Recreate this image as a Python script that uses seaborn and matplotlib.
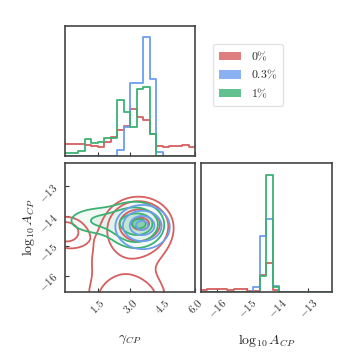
import numpy as np
import pandas as pd
import seaborn as sns
import matplotlib.pyplot as plt
from matplotlib.patches import Patch
from matplotlib.ticker import FuncFormatter

sns.set_style("ticks")
plt.rcParams["mathtext.fontset"] = "cm"
plt.rcParams["font.family"] = ["DejaVu Serif"]

# series names and colours
labels = [r"$0\%$", r"$0.3\%$", r"$1\%$"]
colors = ["#d65f5f", "#6d9eee", "#3bb273"]

# gamma_CP histogram (20 bins over 0..6)
gamma_edges = list(np.linspace(0, 6, 21))
gamma_red = [11.7, 12.0, 12.3, 10.7, 10.0, 8.7, 14.3, 19.3, 26.0, 30.0,
             47.0, 38.7, 36.0, 21.7, 10.0, 8.7, 10.0, 10.3, 11.0, 8.7]
gamma_blue = [0, 0, 0, 0, 0, 0, 0, 0, 6.0, 29.3,
              72.7, 72.7, 118.3, 76.7, 3.7, 0, 0, 0, 0, 0]
gamma_green = [3.3, 3.3, 5.0, 16.7, 13.3, 14.0, 18.3, 18.3, 56.0, 44.3,
               28.7, 66.7, 69.3, 21.7, 0, 0, 0, 0, 0, 0]

# log10 A_CP histogram (20 bins over the axis range)
loga_edges = list(np.linspace(-16.55, -12.2, 21))
loga_red = [2.0, 3.0, 3.0, 2.5, 2.0, 3.0, 3.0, 1.0, 0.5, 17.0,
            29.0, 1.5, 0, 0, 0, 0, 0, 0, 0, 0]
loga_blue = [0, 0, 0, 0, 0, 0, 0, 0, 5.0, 56.0,
             73.0, 6.0, 0, 0, 0, 0, 0, 0, 0, 0]
loga_green = [0, 0, 0, 0, 0, 0, 0, 0, 0, 15.6,
              118.0, 5.0, 0, 0, 0, 0, 0, 0, 0, 0]

# 2D posterior shapes: gaussian blobs (x, y, sx, sy, weight)
red_blobs = [(3.5, -14.25, 0.4, 0.2, 0.15),
             (3.4, -14.3, 0.8, 0.5, 0.30),
             (2.9, -16.9, 1.0, 0.5, 0.22),
             (2.6, -15.5, 1.8, 0.9, 0.27),
             (0.0, -14.5, 0.6, 0.35, 0.06)]
blue_blobs = [(3.55, -14.3, 0.45, 0.25, 0.5),
              (3.6, -14.4, 0.75, 0.45, 0.5)]
green_blobs = [(3.45, -14.25, 0.3, 0.15, 0.15),
               (3.3, -14.3, 0.65, 0.38, 0.40),
               (1.6, -14.15, 1.0, 0.3, 0.25),
               (3.2, -14.3, 0.8, 0.5, 0.20)]

sigmas = [0.5, 1.0, 1.5, 2.0]


def density(blobs, gx, gy):
    X, Y = np.meshgrid(gx, gy)
    Z = np.zeros_like(X)
    for mx, my, sx, sy, w in blobs:
        Z += w * np.exp(-0.5 * (((X - mx) / sx) ** 2 + ((Y - my) / sy) ** 2)) / (sx * sy)
    return X, Y, Z


def mass_levels(Z):
    flat = np.sort(Z.ravel())[::-1]
    cum = np.cumsum(flat) / flat.sum()
    fracs = [1 - np.exp(-0.5 * s ** 2) for s in sigmas]
    lev = [flat[np.searchsorted(cum, f)] for f in fracs]
    return sorted(lev)


def step_hist(ax, edges, heights, color):
    centers = [0.5 * (a + b) for a, b in zip(edges[:-1], edges[1:])]
    df = pd.DataFrame({"x": centers, "w": heights})
    sns.histplot(data=df, x="x", weights="w", bins=edges, element="step",
                 fill=False, color=color, linewidth=1.3, ax=ax)


fmt = FuncFormatter(lambda v, p: "$%.1f$" % v)
fmt_int = FuncFormatter(lambda v, p: "$%d$" % v)

fig = plt.figure(figsize=(3.58, 3.58), dpi=100)
ax_top = fig.add_axes([0.1816, 0.5642, 0.3631, 0.364])
ax_2d = fig.add_axes([0.1816, 0.1844, 0.3631, 0.3612])
ax_right = fig.add_axes([0.5606, 0.1844, 0.3668, 0.3612])

for h, c in zip([gamma_red, gamma_blue, gamma_green], colors):
    step_hist(ax_top, gamma_edges, h, c)
for h, c in zip([loga_red, loga_blue, loga_green], colors):
    step_hist(ax_right, loga_edges, h, c)

ax_top.set_xlim(0, 6)
ax_top.set_ylim(0, 130)
ax_right.set_xlim(-16.55, -12.2)
ax_right.set_ylim(0, 130)

gx = np.linspace(0, 6, 150)
gy = np.linspace(-16.55, -12.2, 130)
for blobs, c in [(red_blobs, colors[0]), (green_blobs, colors[2]), (blue_blobs, colors[1])]:
    X, Y, Z = density(blobs, gx, gy)
    lev = mass_levels(Z)
    if c == colors[2]:
        fill_cols = [(0.23, 0.70, 0.45, a) for a in [0.06, 0.15, 0.32, 0.6]]
        ax_2d.contourf(X, Y, Z, levels=lev + [Z.max() * 1.01], colors=fill_cols)
    ax_2d.contour(X, Y, Z, levels=lev, colors=c, linewidths=1.3)
ax_2d.set_xlim(0, 6)
ax_2d.set_ylim(-16.55, -12.2)

for ax in [ax_top, ax_2d, ax_right]:
    for s in ax.spines.values():
        s.set_visible(True)
        s.set_color("#444444")
        s.set_linewidth(1.2)
    ax.tick_params(direction="in", length=3, width=0.8, colors="#333333", labelsize=8)
    ax.set_xlabel("")
    ax.set_ylabel("")

ax_top.set_xticks([1.5, 3.0, 4.5, 6.0])
ax_top.set_xticklabels([])
ax_top.set_yticks([])

ax_2d.set_xticks([1.5, 3.0, 4.5, 6.0])
ax_2d.xaxis.set_major_formatter(fmt)
ax_2d.set_yticks([-16, -15, -14, -13])
ax_2d.yaxis.set_major_formatter(fmt_int)

ax_right.set_xticks([-16, -15, -14, -13])
ax_right.xaxis.set_major_formatter(fmt_int)
ax_right.set_yticks([])

for ax in [ax_2d, ax_right]:
    for t in ax.get_xticklabels():
        t.set_rotation(45)
for t in ax_2d.get_yticklabels():
    t.set_rotation(45)

ax_2d.set_xlabel(r"$\gamma_{CP}$", fontsize=10)
ax_2d.xaxis.set_label_coords(0.5, -0.31)
ax_2d.set_ylabel(r"$\log_{10} A_{CP}$", fontsize=10)
ax_2d.yaxis.set_label_coords(-0.215, 0.5)
ax_right.set_xlabel(r"$\log_{10} A_{CP}$", fontsize=10)
ax_right.xaxis.set_label_coords(0.5, -0.31)

leg = fig.legend(handles=[Patch(facecolor=c, alpha=0.8, edgecolor="none") for c in colors],
                 labels=labels, loc="upper left", bbox_to_anchor=(0.578, 0.894),
                 fontsize=8.5, handlelength=1.9, handleheight=0.7, frameon=True,
                 fancybox=True, borderpad=0.5, labelspacing=0.45, handletextpad=0.8)
leg.get_frame().set_edgecolor("#dddddd")

fig.savefig("out.png", dpi=100)
